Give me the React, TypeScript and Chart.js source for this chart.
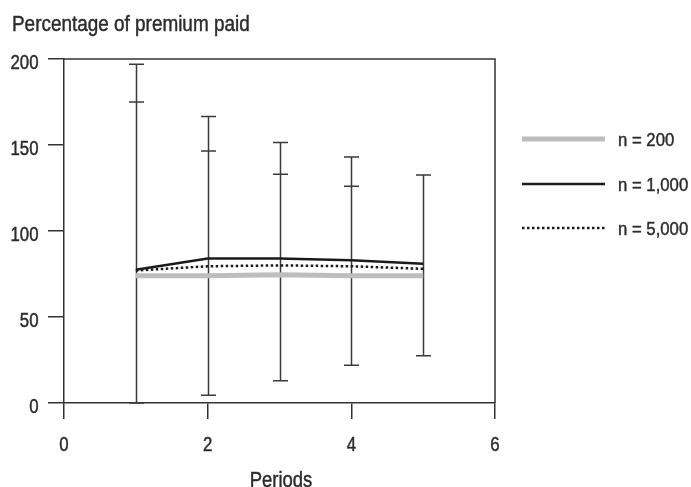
import React, { useEffect, useRef } from "react";
import { Chart, registerables } from "chart.js";

Chart.register(...registerables);

const periods = [1, 2, 3, 4, 5];
const n200 = [74, 74, 74.5, 74, 74];
const n1000 = [77.5, 84, 84, 83, 81];
const n5000 = [77, 79.5, 80, 79.5, 78];
const errUpper = [197, 166.5, 151.5, 143, 132.5];
const errUpper2: (number | null)[] = [175, 146.5, 133, 126, null];
const errLower = [0, 4.5, 13, 22, 27.5];
const seriesLabels = ["n = 200", "n = 1,000", "n = 5,000"];
const xTicks = [0, 2, 4, 6];
const yTicks = [0, 50, 100, 150, 200];
const yTitle = "Percentage of premium paid";
const xTitle = "Periods";

const FONT = '"Liberation Sans", Arial, sans-serif';
const TEXT = "#2b2b2b";
const AXIS = "#333333";

function drawText(
  ctx: CanvasRenderingContext2D,
  text: string,
  x: number,
  y: number,
  size: number,
  sx: number,
  align: "left" | "center" | "right"
) {
  ctx.save();
  ctx.font = `${size}px ${FONT}`;
  ctx.fillStyle = TEXT;
  ctx.strokeStyle = TEXT;
  ctx.lineWidth = 0.45;
  const w = ctx.measureText(text).width * sx;
  const left = align === "left" ? x : align === "center" ? x - w / 2 : x - w;
  ctx.translate(left, y);
  ctx.scale(sx, 1);
  ctx.textAlign = "left";
  ctx.textBaseline = "alphabetic";
  ctx.fillText(text, 0, 0);
  ctx.strokeText(text, 0, 0);
  ctx.restore();
}

const overlay = {
  id: "overlay",
  beforeDatasetsDraw(chart: any) {
    const { ctx, scales } = chart;
    const x = scales.x;
    const y = scales.y;
    ctx.save();
    ctx.strokeStyle = "#3a3a3a";
    ctx.lineWidth = 1.5;
    const cap = 7.5;
    periods.forEach((p, i) => {
      const px = Math.round(x.getPixelForValue(p)) + 0.5;
      const top = y.getPixelForValue(errUpper[i]);
      const bot = y.getPixelForValue(errLower[i]);
      ctx.beginPath();
      ctx.moveTo(px, top);
      ctx.lineTo(px, bot);
      const caps = [errUpper[i], errLower[i]];
      if (errUpper2[i] !== null) caps.push(errUpper2[i] as number);
      caps.forEach((v) => {
        const py = y.getPixelForValue(v);
        ctx.moveTo(px - cap, py);
        ctx.lineTo(px + cap, py);
      });
      ctx.stroke();
    });
    ctx.restore();
  },
  afterDraw(chart: any) {
    const { ctx, chartArea, scales } = chart;
    ctx.save();
    ctx.strokeStyle = AXIS;
    ctx.lineWidth = 1.5;
    ctx.beginPath();
    ctx.moveTo(chartArea.left, chartArea.top);
    ctx.lineTo(chartArea.right, chartArea.top);
    ctx.lineTo(chartArea.right, chartArea.bottom);
    ctx.stroke();
    ctx.restore();

    // tick labels
    scales.y.ticks.forEach((t: any) => {
      const py = scales.y.getPixelForValue(t.value);
      drawText(ctx, String(t.value), 38.5, py + 9.5, 20, 0.84, "right");
    });
    scales.x.ticks.forEach((t: any) => {
      const px = scales.x.getPixelForValue(t.value);
      drawText(ctx, String(t.value), px, 451, 20, 0.84, "center");
    });

    // titles
    drawText(ctx, yTitle, 12, 31, 22, 0.86, "left");
    drawText(ctx, xTitle, 281, 487, 22, 0.84, "center");

    // legend
    const ds = chart.data.datasets;
    const ys = [139, 184, 228];
    [0, 1, 2].forEach((di, k) => {
      const d = ds[di];
      ctx.save();
      ctx.strokeStyle = d.borderColor;
      ctx.lineWidth = d.borderWidth;
      ctx.setLineDash(d.borderDash || []);
      ctx.lineCap = "butt";
      ctx.beginPath();
      ctx.moveTo(522, ys[k]);
      ctx.lineTo(605, ys[k]);
      ctx.stroke();
      ctx.restore();
      drawText(ctx, d.label, 618, ys[k] + 6.5, 19, 0.88, "left");
    });
  },
};

export default function App() {
  const ref = useRef<HTMLCanvasElement>(null);
  useEffect(() => {
    if (!ref.current) return;
    const pts = (arr: number[]) => periods.map((p, i) => ({ x: p, y: arr[i] }));
    const chart = new Chart(ref.current, {
      type: "line",
      data: {
        datasets: [
          {
            label: seriesLabels[0],
            data: pts(n200),
            borderColor: "#bdbdbd",
            borderWidth: 5,
            pointRadius: 0,
            order: 3,
          } as any,
          {
            label: seriesLabels[1],
            data: pts(n1000),
            borderColor: "#1a1a1a",
            borderWidth: 2.5,
            pointRadius: 0,
            order: 1,
          },
          {
            label: seriesLabels[2],
            data: pts(n5000),
            borderColor: "#1a1a1a",
            borderWidth: 2.5,
            borderDash: [2.5, 2.5],
            pointRadius: 0,
            order: 2,
          },
        ],
      },
      options: {
        responsive: false,
        animation: false,
        devicePixelRatio: 1,
        layout: { padding: { top: 59, right: 196, bottom: 0, left: 0 } },
        plugins: { legend: { display: false }, tooltip: { enabled: false }, title: { display: false } },
        scales: {
          x: {
            type: "linear",
            min: 0,
            max: 6,
            afterBuildTicks: (s: any) => {
              s.ticks = xTicks.map((v) => ({ value: v }));
            },
            afterFit: (s: any) => {
              s.height = 84;
            },
            ticks: { color: "rgba(0,0,0,0)", font: { family: FONT, size: 19 }, padding: 12, maxRotation: 0 },
            grid: { drawOnChartArea: false, tickLength: 16, color: AXIS, lineWidth: 1.5 },
            border: { color: AXIS, width: 1.5 },
          },
          y: {
            min: 0,
            max: 200,
            afterBuildTicks: (s: any) => {
              s.ticks = yTicks.map((v) => ({ value: v }));
            },
            afterFit: (s: any) => {
              s.width = 64;
            },
            ticks: { color: "rgba(0,0,0,0)", font: { family: FONT, size: 19 }, padding: 9 },
            grid: { drawOnChartArea: false, tickLength: 16, color: AXIS, lineWidth: 1.5 },
            border: { color: AXIS, width: 1.5 },
          },
        },
      },
      plugins: [overlay],
    } as any);
    return () => chart.destroy();
  }, []);
  return (
    <div style={{ position: "absolute", left: 0, top: 0, width: 691, height: 487, background: "#fff" }}>
      <canvas ref={ref} width={691} height={487} />
    </div>
  );
}
